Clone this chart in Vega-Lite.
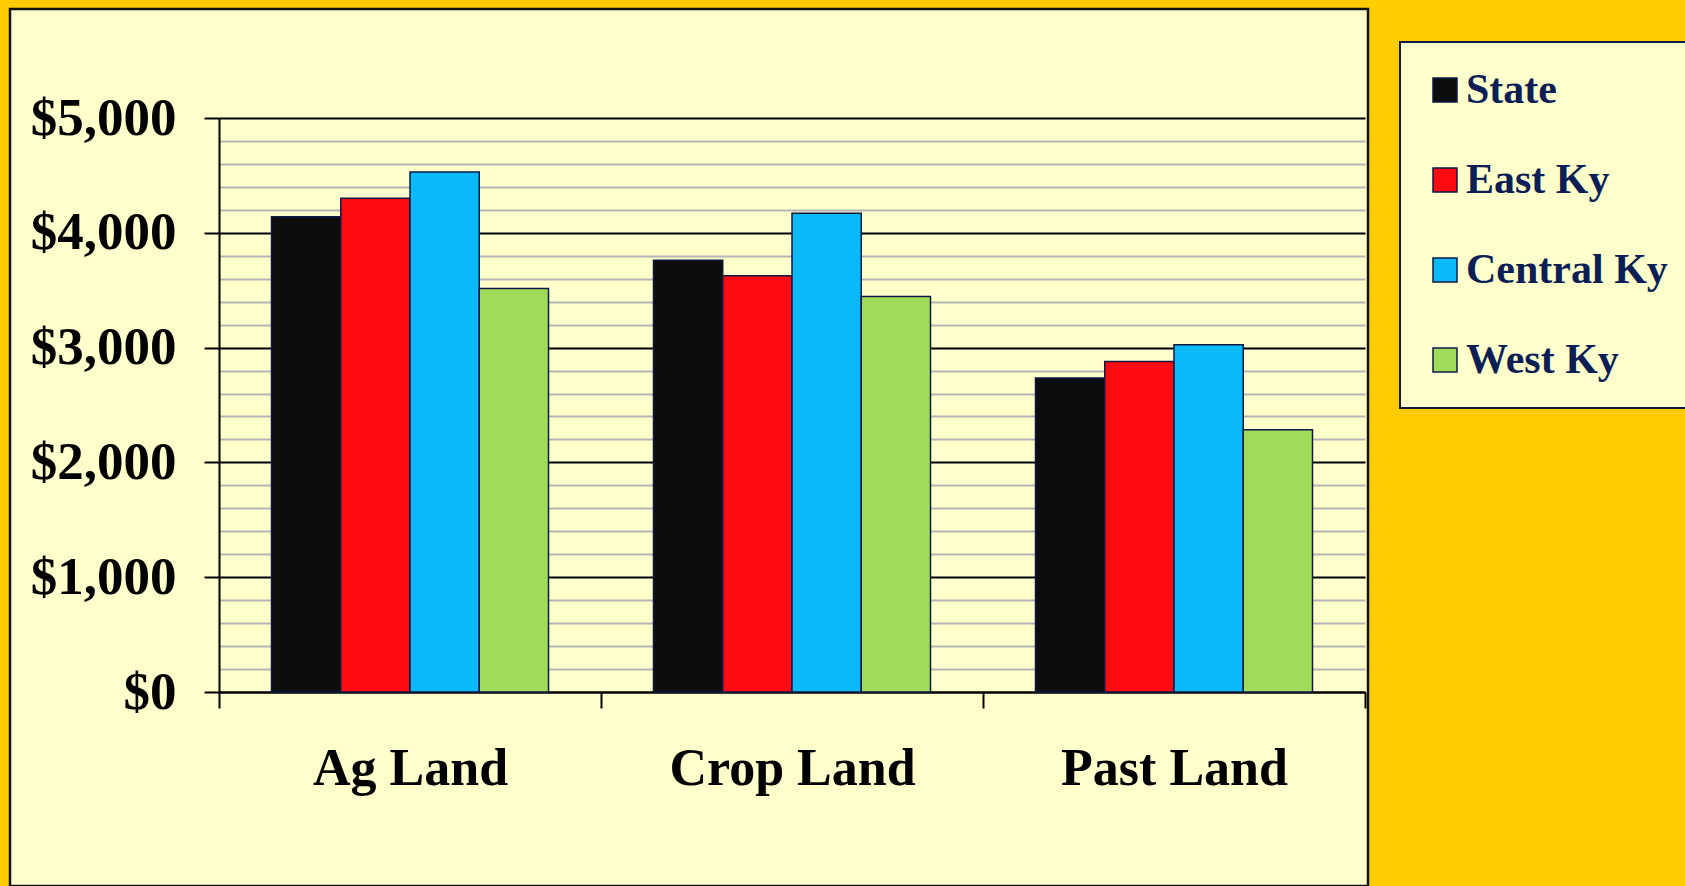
{
  "$schema": "https://vega.github.io/schema/vega-lite/v6.json",
  "autosize": {"type": "none"},
  "padding": {"left": 10, "top": 9, "right": 317, "bottom": 0},
  "width": 1358,
  "height": 877,
  "background": "#FFCC00",
  "view": {"fill": "#FFFFCC", "stroke": "#111111", "strokeWidth": 2.5},
  "config": {"legend": {"strokeWidth": 2}},
  "data": {
    "values": [
      {"land": "Ag Land", "region": "State", "value": 4140},
      {"land": "Ag Land", "region": "East Ky", "value": 4300},
      {"land": "Ag Land", "region": "Central Ky", "value": 4530},
      {"land": "Ag Land", "region": "West Ky", "value": 3515},
      {"land": "Crop Land", "region": "State", "value": 3760},
      {"land": "Crop Land", "region": "East Ky", "value": 3625},
      {"land": "Crop Land", "region": "Central Ky", "value": 4170},
      {"land": "Crop Land", "region": "West Ky", "value": 3445},
      {"land": "Past Land", "region": "State", "value": 2735},
      {"land": "Past Land", "region": "East Ky", "value": 2880},
      {"land": "Past Land", "region": "Central Ky", "value": 3025},
      {"land": "Past Land", "region": "West Ky", "value": 2285}
    ]
  },
  "mark": {"type": "bar", "stroke": "#0d1a45", "strokeWidth": 1.5},
  "encoding": {
    "x": {
      "field": "land",
      "type": "nominal",
      "sort": ["Ag Land", "Crop Land", "Past Land"],
      "scale": {"range": [209, 1355], "paddingInner": 0, "paddingOuter": 0},
      "axis": {
        "title": null,
        "offset": -194,
        "tickBand": "extent",
        "tickSize": 16,
        "tickWidth": 2,
        "tickColor": "#000000",
        "domainColor": "#000000",
        "domainWidth": 2,
        "labelAngle": 0,
        "labelFont": "Liberation Serif",
        "labelFontWeight": "bold",
        "labelFontSize": 52,
        "labelColor": "#000000",
        "labelPadding": 35,
        "labelLimit": 500,
        "grid": false
      }
    },
    "xOffset": {
      "field": "region",
      "type": "nominal",
      "sort": ["State", "East Ky", "Central Ky", "West Ky"],
      "scale": {"paddingInner": 0, "paddingOuter": 0.758}
    },
    "y": {
      "field": "value",
      "type": "quantitative",
      "scale": {"domain": [0, 5000], "nice": false, "range": [683, 109]},
      "axis": {
        "title": null,
        "offset": -209,
        "values": [0, 200, 400, 600, 800, 1000, 1200, 1400, 1600, 1800, 2000, 2200, 2400, 2600, 2800, 3000, 3200, 3400, 3600, 3800, 4000, 4200, 4400, 4600, 4800, 5000],
        "labelExpr": "datum.value % 1000 === 0 ? '$' + format(datum.value, ',') : ''",
        "grid": true,
        "gridColor": {"condition": {"test": "datum.value % 1000 === 0", "value": "#000000"}, "value": "#b5b5b5"},
        "gridWidth": 2,
        "gridOpacity": 1,
        "tickSize": 15,
        "tickWidth": 2,
        "tickColor": {"condition": {"test": "datum.value % 1000 === 0", "value": "#000000"}, "value": "transparent"},
        "domainColor": "#000000",
        "domainWidth": 2,
        "labelFont": "Liberation Serif",
        "labelFontWeight": "bold",
        "labelFontSize": 53,
        "labelColor": "#000000",
        "labelPadding": 28
      }
    },
    "color": {
      "field": "region",
      "type": "nominal",
      "scale": {
        "domain": ["State", "East Ky", "Central Ky", "West Ky"],
        "range": ["#0d0d0d", "#ff0a10", "#0abaf8", "#a0dc5a"]
      },
      "legend": {
        "title": null,
        "orient": "none",
        "legendX": 1390,
        "legendY": 33,
        "direction": "vertical",
        "fillColor": "#FFFFCC",
        "strokeColor": "#0d1a45",
        "cornerRadius": 0,
        "padding": 27,
        "symbolType": "square",
        "symbolSize": 576,
        "symbolOffset": -3,
        "symbolStrokeColor": "#0d1a45",
        "symbolStrokeWidth": 1.5,
        "symbolOpacity": 1,
        "labelFont": "Liberation Serif",
        "labelFontWeight": "bold",
        "labelFontSize": 42,
        "labelColor": "#0b1e55",
        "labelOffset": 0,
        "labelLimit": 400,
        "rowPadding": 48
      }
    }
  }
}
